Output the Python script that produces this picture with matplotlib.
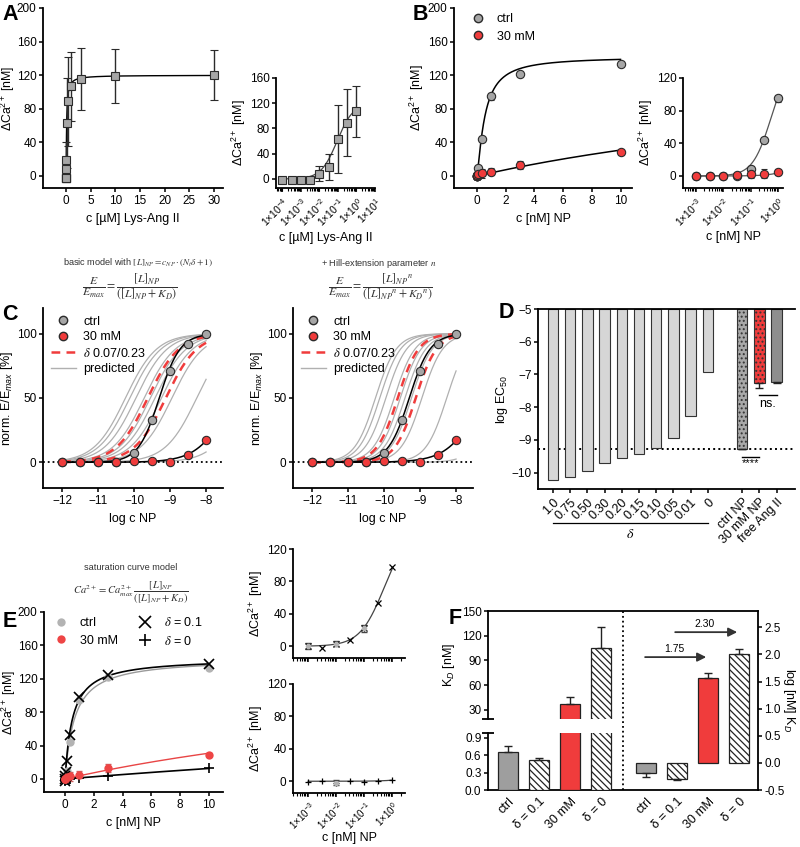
import numpy as np
import matplotlib
matplotlib.use("Agg")
import matplotlib.pyplot as plt
import matplotlib.transforms as mtransforms
from matplotlib.lines import Line2D
from matplotlib.ticker import LogLocator, NullFormatter

plt.rcParams["font.family"] = ["Liberation Sans", "DejaVu Sans"]
plt.rcParams["mathtext.fontset"] = "custom"
plt.rcParams["mathtext.rm"] = "Liberation Sans"
plt.rcParams["mathtext.it"] = "Liberation Sans:italic"
plt.rcParams["mathtext.bf"] = "Liberation Sans:bold"
plt.rcParams["font.size"] = 9
plt.rcParams["axes.linewidth"] = 1.3
plt.rcParams["xtick.major.width"] = 1.1
plt.rcParams["ytick.major.width"] = 1.1
plt.rcParams["xtick.major.size"] = 3.2
plt.rcParams["ytick.major.size"] = 3.2
plt.rcParams["xtick.major.pad"] = 2
plt.rcParams["ytick.major.pad"] = 1.5
plt.rcParams["xtick.labelsize"] = 8.5
plt.rcParams["ytick.labelsize"] = 8.5
plt.rcParams["hatch.linewidth"] = 0.9

GREY = "#a6a6a6"
RED = "#f03c3c"
DARK = "#2b2b2b"

# ---- A: Lys-Ang II dose response ------------------------------------------
a_conc = [1e-4, 3.16e-4, 1e-3, 3.16e-3, 1e-2, 3.16e-2, 0.1, 0.316, 1, 3, 10, 30]
a_ca = [-2, -2, -2, -2, 8, 19, 63, 89, 107, 115, 119, 120]
a_err = [1, 1, 1, 1, 12, 21, 54, 53, 41, 37, 32, 30]
a_fit = (120, -1.05, 1.0)          # top, log EC50, slope

# ---- B: NP dose response ---------------------------------------------------
np_conc = [1e-3, 3.16e-3, 1e-2, 3.16e-2, 0.1, 0.316, 1, 3, 10]
b_ctrl = [0, 0, 0, 0, 9, 44, 95, 122, 133]
b_ctrl_err = [4, 3, 4, 3, 3, 2, 4, 2, 2]
b_30 = [0, 0, 0, 1, 2, 3, 5, 13, 29]
b_30_err = [4, 4, 4, 3, 4, 5, 4, 5, 2]
b_fit_ctrl = (142, 0.55, 1.3)      # Emax, K, n
b_fit_30 = (145, 37, 1.0)

# ---- C: normalised responses ----------------------------------------------
c_logc = [-12, -11.5, -11, -10.5, -10, -9.5, -9, -8.5, -8]
c_ctrl = [0, 0, 0, 0, 7, 33, 71, 92, 100]
c_30 = [0.5, 0, 0, 0, 1, 1, 0.5, 6, 17.5]
c_fit_ctrl = (-9.3, 1.5)           # log EC50, slope
c_fit_30 = (-7.27, 0.95)
c_red_ec50 = [-9.62, -9.12]        # delta 0.23 / 0.07
hill_n = 1.5

# ---- D: log EC50 -----------------------------------------------------------
d_labels = ["1.0", "0.75", "0.50", "0.30", "0.20", "0.15", "0.10", "0.05", "0.01", "0"]
d_logec50 = [-10.24, -10.12, -9.95, -9.72, -9.55, -9.42, -9.24, -8.95, -8.26, -6.94]
d_exp_labels = ["ctrl NP", "30 mM NP", "free Ang II"]
d_exp_vals = [-9.28, -7.27, -7.24]
d_exp_err = [0.0, 0.13, 0.03]

# ---- E: saturation model ---------------------------------------------------
e_d01 = [0, -2, 3, 8, 22, 53, 98, 124, 138]
e_d0 = [-1, 0.5, -2, 0, -1, 0.5, 1, 4, 13]
e_d01_err_idx, e_d01_err = [0, 2, 4], [4, 3, 4]
e_d0_err_idx, e_d0_err = [2], [3]
e_ca_max = 145

# ---- F: K_D ----------------------------------------------------------------
kd_names = ["ctrl", "δ = 0.1", "30 mM", "δ = 0"]
kd_vals = [0.66, 0.52, 37, 105]
kd_errs = [0.09, 0.03, 9, 25]
logkd_vals = [-0.18, -0.29, 1.57, 2.01]
logkd_errs = [0.08, 0.03, 0.08, 0.09]
kd_shift = [1.75, 2.30]

W, H = 800, 847
fig = plt.figure(figsize=(8, 8.47), dpi=100)


def box(l, t, r, b):
    return fig.add_axes([l / W, 1 - b / H, (r - l) / W, (b - t) / H])


def clean(ax):
    ax.spines["top"].set_visible(False)
    ax.spines["right"].set_visible(False)


def logistic(lx, top, lec, s):
    return top / (1 + 10 ** (s * (lec - lx)))


def hill(x, emax, k, n):
    x = np.asarray(x)
    return emax * x ** n / (x ** n + k ** n)


def sat(x, kd):
    return hill(x, e_ca_max, kd, 1.0)


def log_axis(ax, lo, hi, first, last, labels=True, size=7.5):
    ax.set_xscale("log")
    ax.set_xlim(10 ** lo, 10 ** hi)
    ticks = [10.0 ** k for k in range(first, last + 1)]
    ax.set_xticks(ticks)
    if labels:
        ax.set_xticklabels([f"1×10$^{{{k}}}$" for k in range(first, last + 1)],
                           rotation=45, ha="right", va="top",
                           rotation_mode="anchor", fontsize=size)
    else:
        ax.set_xticklabels([])
    ax.xaxis.set_minor_locator(LogLocator(base=10, subs=np.arange(2, 10), numticks=20))
    ax.xaxis.set_minor_formatter(NullFormatter())
    ax.tick_params(axis="x", which="minor", length=1.8, width=0.8)


def letter(x, y, s):
    fig.text(x / W, 1 - y / H, s, fontsize=15.5, fontweight="bold",
             ha="center", va="center")


def ftext(x, y, s, size=6.6):
    fig.text(x / W, 1 - y / H, s, fontsize=size, ha="center", va="center",
             color="#333333", math_fontfamily="stix")


ca_label = "ΔCa$^{2+}$ [nM]"
sq = dict(fmt="s", ms=5.5, mfc=GREY, mec=DARK, mew=0.8, ecolor=DARK,
          elinewidth=1, capsize=3, capthick=1)

# ============================ A ============================================
ax = box(43, 8, 223, 188)
clean(ax)
xs = np.concatenate([np.geomspace(1e-4, 1, 200), np.linspace(1, 30, 200)])
ax.plot(xs, logistic(np.log10(xs), *a_fit), color="k", lw=1)
ax.errorbar(a_conc, a_ca, yerr=a_err, **sq)
ax.set_xlim(-4.7, 31.8)
ax.set_ylim(-14.3, 200)
ax.set_xticks(range(0, 31, 5))
ax.set_yticks(range(0, 201, 40))
ax.set_xlabel("c [µM] Lys-Ang II", fontsize=9)
ax.set_ylabel(ca_label, fontsize=8.8, labelpad=0)

ax = box(276, 78, 375, 188)
clean(ax)
xs = np.geomspace(1e-4, 1, 200)
ax.plot(xs, logistic(np.log10(xs), *a_fit), color="#444444", lw=0.9)
ax.errorbar(a_conc[:9], a_ca[:9], yerr=a_err[:9], **sq)
log_axis(ax, -4.35, 1.0, -4, 1)
ax.set_ylim(-14.3, 160)
ax.set_yticks(range(0, 161, 40))
ax.set_xlabel("c [µM] Lys-Ang II", fontsize=9, labelpad=2)
ax.set_ylabel(ca_label, fontsize=9, labelpad=1)

# ============================ B ============================================
circ_g = dict(fmt="o", ms=6, mfc=GREY, mec=DARK, mew=0.8, ecolor=DARK,
              elinewidth=1, capsize=2.5, capthick=1)
circ_r = dict(circ_g, mfc=RED)

ax = box(454, 8, 632, 188)
clean(ax)
xs = np.linspace(0, 10, 400)
ax.plot(xs, hill(xs, *b_fit_ctrl), color="k", lw=1.1)
ax.plot(xs, hill(xs, *b_fit_30), color="k", lw=1.1)
ax.errorbar(np_conc, b_ctrl, yerr=b_ctrl_err, **circ_g)
ax.errorbar(np_conc, b_30, yerr=b_30_err, **circ_r)
ax.set_xlim(-1.6, 10.8)
ax.set_ylim(-14.3, 200)
ax.set_xticks(range(0, 11, 2))
ax.set_yticks(range(0, 201, 40))
ax.set_xlabel("c [nM] NP", fontsize=9)
ax.set_ylabel(ca_label, fontsize=9, labelpad=1)
hb = [Line2D([], [], ls="", marker="o", ms=6, mfc=GREY, mec=DARK),
      Line2D([], [], ls="", marker="o", ms=6, mfc=RED, mec=DARK)]
ax.legend(hb, ["ctrl", "30 mM"], loc="upper left", bbox_to_anchor=(0.03, 1.035),
          frameon=False, handlelength=1.2, handletextpad=0.9, fontsize=9,
          labelspacing=0.45)

ax = box(683, 78, 783, 188)
clean(ax)
xs = np.geomspace(1e-3, 1, 200)
ax.plot(xs, hill(xs, *b_fit_ctrl), color="#555555", lw=0.9)
ax.plot(xs, hill(xs, *b_fit_30), color="#555555", lw=0.9)
ax.errorbar(np_conc[:7], b_ctrl[:7], yerr=b_ctrl_err[:7], **circ_g)
ax.errorbar(np_conc[:7], b_30[:7], yerr=b_30_err[:7], **circ_r)
log_axis(ax, -3.47, 0.18, -3, 0)
ax.set_ylim(-14.7, 120)
ax.set_yticks(range(0, 121, 40))
ax.set_xlabel("c [nM] NP", fontsize=9, labelpad=2)
ax.set_ylabel(ca_label, fontsize=9, labelpad=1)

# ============================ C ============================================
for left, n, title, frac, tx, fx in [
        (43, 1.0, r"basic model with $[L]_{NP} = c_{NP} \cdot (N_t\delta + 1)$",
         r"$\dfrac{E}{E_{max}} = \dfrac{[L]_{NP}}{([L]_{NP} + K_D)}$", 138, 130),
        (293, hill_n, r"+ Hill-extension parameter $n$",
         r"$\dfrac{E}{E_{max}} = \dfrac{{[L]_{NP}}^{n}}{({[L]_{NP}}^{n} + {K_D}^{n})}$",
         379, 380)]:
    ax = box(left, 308, left + 180, 488)
    clean(ax)
    lx = np.linspace(-12, -8, 300)
    for ec in d_logec50:
        ax.plot(lx, logistic(lx, 100, ec, n), color="#b0b0b0", lw=0.9)
    for ec in c_red_ec50:
        ax.plot(lx, logistic(lx, 100, ec, n), color=RED, lw=1.8, ls=(0, (3.5, 2.5)))
    ax.axhline(0, color="k", ls=":", lw=1.3)
    ax.plot(lx, logistic(lx, 100, *c_fit_ctrl), color="k", lw=1.1)
    ax.plot(lx, logistic(lx, 100, *c_fit_30), color="k", lw=1.1)
    ax.plot(c_logc, c_ctrl, "o", ms=6, mfc=GREY, mec=DARK, mew=0.8)
    ax.plot(c_logc, c_30, "o", ms=6, mfc=RED, mec=DARK, mew=0.8)
    ax.set_xlim(-12.53, -7.53)
    ax.set_ylim(-20, 120)
    ax.set_xticks(range(-12, -7))
    ax.set_yticks([0, 50, 100])
    ax.set_xlabel("log c NP", fontsize=9)
    ax.set_ylabel("norm. E/E$_{max}$ [%]", fontsize=9, labelpad=1)
    hc = [Line2D([], [], ls="", marker="o", ms=6, mfc=GREY, mec=DARK),
          Line2D([], [], ls="", marker="o", ms=6, mfc=RED, mec=DARK),
          Line2D([], [], color=RED, lw=1.8, ls=(0, (3.5, 2.5))),
          Line2D([], [], color="#b0b0b0", lw=1)]
    leg = ax.legend(hc, ["ctrl", "30 mM", r"$\delta$ 0.07/0.23", "predicted"],
                    loc="upper left", bbox_to_anchor=(-0.02, 1.02), frameon=False,
                    handlelength=2.0, handletextpad=0.6, fontsize=9,
                    labelspacing=0.28)
    for t in leg.get_texts():
        t.set_math_fontfamily("stix")
    ftext(tx, 263, title)
    ftext(fx, 287, frac, size=8.5)

# ============================ D ============================================
ax = box(538, 309, 795, 489)
ax.spines["right"].set_visible(False)
xd = np.arange(len(d_labels))
xe = np.arange(len(d_exp_labels)) + len(d_labels) + 1
ax.bar(xd, np.array(d_logec50) + 5, bottom=-5, width=0.6, color="#d6d6d6",
       edgecolor="#333333", lw=0.8)
ax.bar(xe, np.array(d_exp_vals) + 5, bottom=-5, width=0.6,
       color=["#a8a8a8", RED, "#8e8e8e"], edgecolor="#333333", lw=0.8,
       hatch=["....", "....", None])
ax.errorbar(xe, d_exp_vals, yerr=[d_exp_err, np.zeros(3)], fmt="none",
            ecolor="#222222", elinewidth=1, capsize=3, capthick=1)
ax.axhline(d_exp_vals[0], color="k", ls=":", lw=1.4, zorder=0)
ax.plot([xe[0], xe[1]], [-9.53, -9.53], color="k", lw=1)
ax.text((xe[0] + xe[1]) / 2, -9.72, "****", ha="center", va="center", fontsize=8)
ax.plot([xe[1], xe[2]], [-7.63, -7.63], color="k", lw=1)
ax.text((xe[1] + xe[2]) / 2, -7.9, "ns.", ha="center", va="center", fontsize=9)
ax.set_xlim(-0.87, 14.07)
ax.set_ylim(-10.5, -5)
ax.set_yticks(range(-10, -4))
ax.set_xticks(list(xd) + list(xe))
ax.set_xticklabels(d_labels + d_exp_labels, rotation=45, ha="right", va="top",
                   rotation_mode="anchor", fontsize=9)
ax.set_ylabel("log EC$_{50}$", fontsize=9, labelpad=1)
tr = mtransforms.blended_transform_factory(ax.transData, ax.transAxes)
ax.plot([xd[0], xd[-1]], [-0.187, -0.187], color="k", lw=0.9, transform=tr,
        clip_on=False)
ax.text((xd[0] + xd[-1]) / 2, -0.25, r"$\delta$", transform=tr, ha="center",
        va="center", fontsize=10, math_fontfamily="stix")

# ============================ E ============================================
ax = box(44, 612, 223, 792)
clean(ax)
xs = np.linspace(0, 10, 400)
ax.plot(xs, sat(xs, kd_vals[0]), color="#9a9a9a", lw=1)
ax.plot(xs, sat(xs, kd_vals[2]), color="#e84545", lw=1)
ax.plot(xs, sat(xs, kd_vals[1]), color="k", lw=1.2)
ax.plot(xs, sat(xs, kd_vals[3]), color="k", lw=1.2)
ax.plot(np_conc, b_ctrl, "o", ms=6, color="#b3b3b3", mec="none")
ax.errorbar(np_conc, b_30, yerr=b_30_err, fmt="o", ms=6, color="#ee4545",
            mec="none", ecolor="#d06060", elinewidth=1, capsize=2.5)
ax.plot(np_conc, e_d01, "x", ms=7, color="k", mew=1.2)
ax.plot(np_conc, e_d0, "+", ms=7, color="k", mew=1.2)
ax.set_xlim(-1.47, 11.0)
ax.set_ylim(-15.6, 200)
ax.set_xticks(range(0, 11, 2))
ax.set_yticks(range(0, 201, 40))
ax.set_xlabel("c [nM] NP", fontsize=9)
ax.set_ylabel(ca_label, fontsize=8.8, labelpad=0)
he = [Line2D([], [], ls="", marker="o", ms=6, color="#b3b3b3", mec="none"),
      Line2D([], [], ls="", marker="o", ms=6, color="#ee4545", mec="none"),
      Line2D([], [], ls="", marker="x", ms=8, color="k", mew=1.2),
      Line2D([], [], ls="", marker="+", ms=8, color="k", mew=1.2)]
leg = ax.legend(he, ["ctrl", "30 mM", r"$\delta$ = 0.1", r"$\delta$ = 0"], ncol=2,
                loc="upper left", bbox_to_anchor=(-0.01, 1.04), frameon=False,
                handlelength=1.2, handletextpad=0.9, columnspacing=1.6,
                fontsize=9, labelspacing=0.45)
for t in leg.get_texts():
    t.set_math_fontfamily("stix")
ftext(131, 567, "saturation curve model")
ftext(131, 593, r"$Ca^{2+} = Ca^{2+}_{max}\,\dfrac{[L]_{NP}}{([L]_{NP} + K_D)}$", size=7.6)

xs = np.geomspace(1e-3, 1, 200)
for (t, b), vals, kd, mk, eidx, eerr, lab in [
        ((549, 658), e_d01, kd_vals[1], "x", e_d01_err_idx, e_d01_err, False),
        ((684, 793), e_d0, kd_vals[3], "+", e_d0_err_idx, e_d0_err, True)]:
    ax = box(293, t, 405, b)
    clean(ax)
    ax.plot(xs, sat(xs, kd), color="#444444", lw=0.9)
    ax.errorbar([np_conc[i] for i in eidx], [vals[i] for i in eidx], yerr=eerr,
                fmt="o", ms=4, mfc="#b3b3b3", mec="none", ecolor="#444444",
                elinewidth=0.9, capsize=2.5)
    ax.plot(np_conc[:7], vals[:7], mk, ms=5, color="k", mew=0.9)
    log_axis(ax, -3.54, 0.46, -3, 0, labels=lab, size=7)
    ax.set_ylim(-14.5, 120)
    ax.set_yticks(range(0, 121, 40))
    ax.set_ylabel(ca_label, fontsize=9, labelpad=1)
    if lab:
        ax.set_xlabel("c [nM] NP", fontsize=9, labelpad=0)

# ============================ F ============================================
xl = np.arange(4)
xr = xl + 4.45
hatch_cols = ["#9e9e9e", "white", RED, "white"]
hatches = [None, "\\\\\\\\\\", None, "\\\\\\\\\\"]

axF = box(488, 611, 758, 790)
axF.spines["left"].set_visible(False)
axF.yaxis.tick_right()
axF.yaxis.set_label_position("right")
axF.set_xlim(-0.645, 8.06)
axF.set_ylim(-0.5, 2.8)
axF.set_yticks([-0.5, 0, 0.5, 1, 1.5, 2, 2.5])
axF.set_yticklabels(["-0.5", "0.0", "0.5", "1.0", "1.5", "2.0", "2.5"])
axF.set_ylabel("log [nM] K$_D$", rotation=270, labelpad=9, fontsize=9)
axF.bar(xr, logkd_vals, width=0.65, color=hatch_cols, hatch=hatches,
        edgecolor="#222222", lw=0.9)
axF.errorbar(xr, logkd_vals,
             yerr=[[e if v < 0 else 0 for v, e in zip(logkd_vals, logkd_errs)],
                   [e if v >= 0 else 0 for v, e in zip(logkd_vals, logkd_errs)]],
             fmt="none", ecolor="#222222", elinewidth=1, capsize=3, capthick=1)
axF.axvline(3.71, color="k", ls=":", lw=1.3)
axF.set_xticks(list(xl) + list(xr))
axF.set_xticklabels(kd_names * 2, rotation=45, ha="right", va="top",
                    rotation_mode="anchor", fontsize=9)
axF.tick_params(axis="x", length=0, pad=4)
for (x0, x1, y), val in zip([(4.42, 6.39, 1.95), (5.39, 7.39, 2.41)], kd_shift):
    axF.annotate("", xy=(x1, y), xytext=(x0, y),
                 arrowprops=dict(arrowstyle="-|>", color="#333333", lw=1.3,
                                 mutation_scale=13, shrinkA=0, shrinkB=0))
    axF.text((x0 + x1) / 2 - 0.05, y + 0.06, f"{val:.2f}", ha="center",
             va="bottom", fontsize=7.5)

for (t, b), ylim, ticks, labels in [
        ((611, 719), (19, 150), [30, 60, 90, 120, 150], None),
        ((733, 790), (0, 0.98), [0, 0.3, 0.6, 0.9], ["0.0", "0.3", "0.6", "0.9"])]:
    a2 = box(488, t, 758, b)
    a2.patch.set_alpha(0)
    for s in ("top", "right", "bottom"):
        a2.spines[s].set_visible(False)
    a2.set_xlim(axF.get_xlim())
    a2.set_ylim(*ylim)
    a2.set_xticks([])
    a2.set_yticks(ticks)
    if labels:
        a2.set_yticklabels(labels)
    a2.bar(xl, kd_vals, width=0.65, color=hatch_cols, hatch=hatches,
           edgecolor="#222222", lw=0.9)
    a2.errorbar(xl, kd_vals, yerr=[np.zeros(4), kd_errs], fmt="none",
                ecolor="#222222", elinewidth=1, capsize=3, capthick=1)
    if b == 719:
        a2.set_ylabel("K$_D$ [nM]", fontsize=9, labelpad=3)
        a2.plot([0], [0], marker="_", ms=8, mew=1.3, color="k",
                transform=a2.transAxes, clip_on=False)
    else:
        a2.plot([0], [1], marker="_", ms=8, mew=1.3, color="k",
                transform=a2.transAxes, clip_on=False)

# ---- panel letters ---------------------------------------------------------
letter(10, 14, "A")
letter(420, 14, "B")
letter(10, 314, "C")
letter(506, 312, "D")
letter(10, 621, "E")
letter(455, 619, "F")

fig.savefig("out.png", dpi=100)
